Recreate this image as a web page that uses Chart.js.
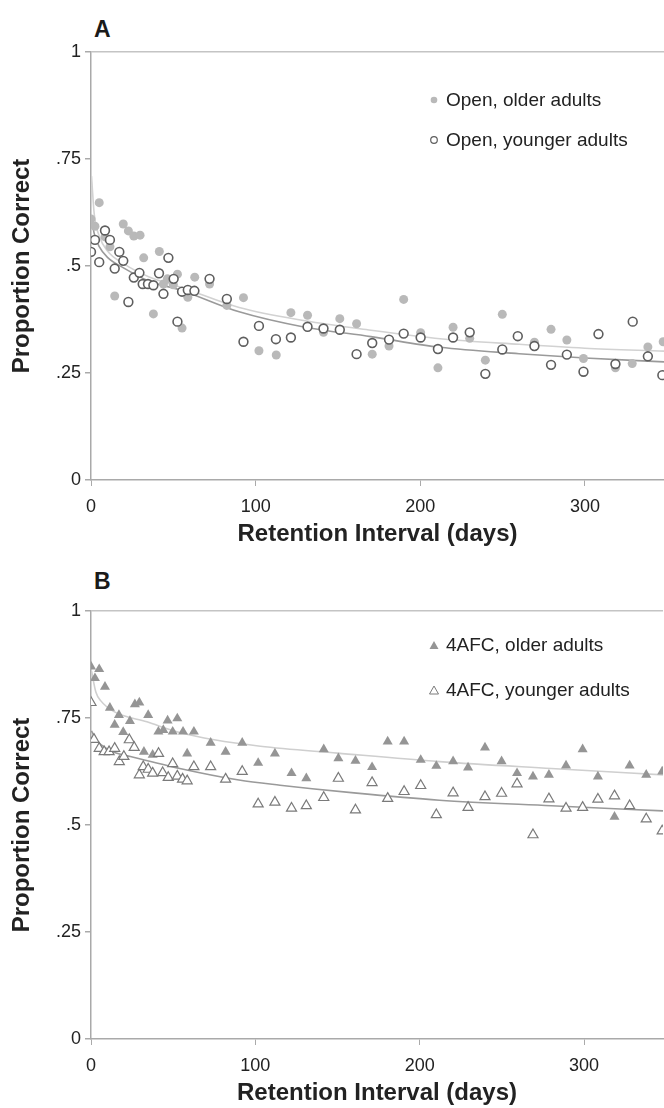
<!DOCTYPE html>
<html>
<head>
<meta charset="utf-8">
<script src="https://cdn.jsdelivr.net/npm/chart.js@4.4.0/dist/chart.umd.min.js"></script>
<style>
  body { margin: 0; width: 664px; height: 1108px; overflow: hidden; background: #fff; position: relative;
         font-family: "Liberation Sans", Arial, Helvetica, sans-serif; }
  .panel { position: absolute; left: 0; width: 670px; height: 554px; }
  .panel-label { position: absolute; left: 94px; font-weight: bold; font-size: 23px; line-height: 23px; color: #1a1a1a; }
  .legend { position: absolute; left: 428px; font-size: 19px; color: #222; }
  .legend .item { display: flex; align-items: center; white-space: nowrap; }
  .legend svg { margin-right: 6px; }
</style>
</head>
<body>
<div class="panel-label" style="top:18px">A</div>
<div class="panel" style="top:0"><canvas id="panel-a" width="670" height="554"></canvas></div>
<div class="legend" id="legend-a" style="top:80px"></div>

<div class="panel-label" style="top:570px">B</div>
<div class="panel" style="top:559px"><canvas id="panel-b" width="670" height="554"></canvas></div>
<div class="legend" id="legend-b" style="top:622px"></div>

<script>
// ticks
const xTicks = [0, 100, 200, 300];
const yTickLabels = ['0', '.25', '.5', '.75', '1'];

// panel A: open recall
const openOlderDays = [0, 2.4, 5, 8.5, 11.5, 14.4, 19.6, 22.7, 26, 29.8, 32, 37.9, 41.5, 44, 46.4, 50, 52.5, 55.3, 58.8, 63, 72, 82.5, 92.6, 102, 112.5, 121.4, 131.5, 141.2, 151.1, 161.3, 170.8, 181, 189.9, 200.2, 210.7, 219.9, 230, 239.5, 249.8, 259.2, 269.3, 279.4, 289, 299.1, 318.5, 328.7, 338.2, 347.5];
const openOlderProp = [0.61, 0.593, 0.648, 0.568, 0.545, 0.43, 0.598, 0.582, 0.57, 0.572, 0.519, 0.388, 0.534, 0.458, 0.47, 0.456, 0.481, 0.355, 0.427, 0.474, 0.458, 0.408, 0.426, 0.302, 0.292, 0.391, 0.385, 0.345, 0.377, 0.365, 0.294, 0.313, 0.422, 0.344, 0.262, 0.357, 0.331, 0.28, 0.387, 0.335, 0.322, 0.352, 0.327, 0.284, 0.262, 0.272, 0.311, 0.323];

const openYoungerDays = [0, 2.4, 5, 8.5, 11.5, 14.4, 17.2, 19.6, 22.7, 26, 29.4, 31.4, 34.6, 37.9, 41.3, 44, 47, 50.2, 52.5, 55.3, 58.8, 62.8, 72, 82.5, 92.6, 102, 112.3, 121.4, 131.5, 141.2, 151.1, 161.3, 170.8, 181, 189.9, 200.2, 210.7, 219.9, 230, 239.5, 249.8, 259.2, 269.3, 279.4, 289, 299.1, 308.2, 318.5, 329, 338.2, 347];
const openYoungerProp = [0.533, 0.561, 0.509, 0.583, 0.561, 0.494, 0.533, 0.512, 0.416, 0.473, 0.484, 0.458, 0.458, 0.455, 0.483, 0.435, 0.519, 0.47, 0.37, 0.44, 0.444, 0.442, 0.47, 0.423, 0.323, 0.36, 0.329, 0.333, 0.358, 0.354, 0.351, 0.294, 0.32, 0.328, 0.342, 0.333, 0.306, 0.333, 0.345, 0.248, 0.305, 0.336, 0.313, 0.269, 0.293, 0.253, 0.341, 0.271, 0.37, 0.289, 0.245];

const fitOpenOlderDays = [0.3, 2, 5, 10, 20, 35, 55, 90, 130, 170, 212, 260, 300, 348];
const fitOpenOlderProp = [0.71, 0.62, 0.57, 0.535, 0.505, 0.475, 0.45, 0.403, 0.372, 0.35, 0.33, 0.317, 0.308, 0.301];
const fitOpenYoungerDays = [0.3, 2, 5, 10, 20, 35, 55, 90, 130, 170, 212, 260, 300, 348];
const fitOpenYoungerProp = [0.61, 0.575, 0.545, 0.52, 0.495, 0.465, 0.443, 0.393, 0.357, 0.335, 0.31, 0.295, 0.285, 0.276];

// panel B: 4AFC recognition
const afcOlderDays = [0, 2.4, 5, 8.5, 11.5, 14.4, 17, 19.6, 23.7, 26.7, 29.4, 32.2, 34.8, 37.5, 41, 44, 46.6, 49.7, 52.5, 56, 58.5, 62.6, 72.8, 81.9, 92, 101.7, 111.9, 122, 131, 141.6, 150.5, 160.9, 171, 180.5, 190.5, 200.6, 210.1, 220.3, 229.4, 239.7, 249.8, 259.2, 268.9, 278.6, 289, 299.1, 308.4, 318.5, 327.7, 337.8, 347.5];
const afcOlderProp = [0.87, 0.843, 0.864, 0.823, 0.774, 0.734, 0.757, 0.717, 0.743, 0.782, 0.786, 0.671, 0.757, 0.664, 0.718, 0.722, 0.744, 0.718, 0.749, 0.718, 0.667, 0.718, 0.692, 0.671, 0.692, 0.645, 0.667, 0.621, 0.609, 0.677, 0.656, 0.65, 0.635, 0.695, 0.695, 0.652, 0.638, 0.649, 0.634, 0.681, 0.649, 0.621, 0.613, 0.617, 0.639, 0.677, 0.613, 0.519, 0.639, 0.617, 0.625];

const afcYoungerDays = [0, 1.8, 5, 8, 11, 14.4, 17.2, 20, 23.3, 26.3, 29.4, 31.8, 34.8, 37.5, 41.1, 43.6, 47, 49.7, 52.5, 55.7, 58.5, 62.6, 72.8, 81.9, 92, 101.7, 111.9, 122, 131, 141.6, 150.5, 160.9, 171, 180.5, 190.5, 200.6, 210.1, 220.3, 229.4, 239.7, 249.8, 259.2, 268.9, 278.6, 289, 299.1, 308.4, 318.5, 327.7, 337.8, 347.5];
const afcYoungerProp = [0.786, 0.70, 0.679, 0.671, 0.671, 0.679, 0.648, 0.66, 0.699, 0.681, 0.617, 0.636, 0.63, 0.621, 0.667, 0.622, 0.611, 0.643, 0.614, 0.607, 0.603, 0.636, 0.636, 0.607, 0.625, 0.549, 0.553, 0.539, 0.545, 0.564, 0.609, 0.535, 0.599, 0.562, 0.578, 0.592, 0.524, 0.575, 0.541, 0.566, 0.574, 0.596, 0.477, 0.561, 0.539, 0.541, 0.56, 0.568, 0.545, 0.514, 0.486];

const fitAfcOlderDays = [0.3, 3, 6, 14, 34, 54, 75, 103, 150, 212, 280, 348];
const fitAfcOlderProp = [0.86, 0.81, 0.79, 0.765, 0.741, 0.716, 0.699, 0.684, 0.668, 0.648, 0.632, 0.617];
const fitAfcYoungerDays = [0.3, 3, 6, 14, 24, 54, 90, 115, 160, 212, 280, 348];
const fitAfcYoungerProp = [0.72, 0.70, 0.688, 0.67, 0.66, 0.632, 0.605, 0.593, 0.575, 0.558, 0.545, 0.533];

const FONT = '"Liberation Sans", Arial, Helvetica, sans-serif';

function toPoints(days, prop){
    return days.map((d, i) => ({ x: d, y: prop[i] }));
}

function fitLine(days, prop, color, order){
    return {
        label: '', data: toPoints(days, prop), showLine: true, pointRadius: 0,
        borderColor: color, borderWidth: 1.6, cubicInterpolationMode: 'monotone', order: order
    };
}

function makePanel(canvasId, datasets){
    return new Chart(document.getElementById(canvasId), {
        type: 'scatter',
        data: { datasets: datasets },
        options: {
            responsive: false,
            animation: false,
            devicePixelRatio: 1,
            layout: { padding: { top: 52, right: 0, bottom: 0, left: 0 } },
            plugins: { legend: { display: false }, tooltip: { enabled: false } },
            scales: {
                x: {
                    min: 0, max: 348,
                    afterFit: scale => { scale.height = 74; },
                    afterBuildTicks: scale => { scale.ticks = xTicks.map(v => ({ value: v })); },
                    ticks: { color: '#222', font: { family: FONT, size: 18 }, padding: 10 },
                    grid: { drawOnChartArea: false, tickLength: 6, tickColor: '#aaa' },
                    border: { color: '#a9a9a9', width: 1.5 },
                    title: { display: true, text: 'Retention Interval (days)', color: '#222',
                             font: { family: FONT, size: 24, weight: 'bold' }, padding: { top: 0, bottom: 5 } }
                },
                y: {
                    min: 0, max: 1,
                    afterFit: scale => { scale.width = 91; },
                    ticks: { stepSize: 0.25, color: '#222', font: { family: FONT, size: 18 }, padding: 4,
                             callback: (v, i) => yTickLabels[i] },
                    grid: { color: ctx => ctx.tick && ctx.tick.value === 1 ? '#c4c4c4' : 'transparent',
                            lineWidth: 1.5, tickLength: 6, tickColor: '#aaa' },
                    border: { color: '#a9a9a9', width: 1.5 },
                    title: { display: true, text: 'Proportion Correct', color: '#222',
                             font: { family: FONT, size: 24, weight: 'bold' }, padding: { top: 8, bottom: 0 } }
                }
            }
        }
    });
}

const panelA = [
    { label: 'Open, older adults', data: toPoints(openOlderDays, openOlderProp), pointStyle: 'circle',
      pointRadius: 4.5, backgroundColor: '#b9b9b9', borderWidth: 0, order: 1 },
    { label: 'Open, younger adults', data: toPoints(openYoungerDays, openYoungerProp), pointStyle: 'circle',
      pointRadius: 4.4, backgroundColor: '#fff', borderColor: '#5e5e5e', borderWidth: 1.6, order: 0 },
    fitLine(fitOpenOlderDays, fitOpenOlderProp, '#d2d2d2', 3),
    fitLine(fitOpenYoungerDays, fitOpenYoungerProp, '#9a9a9a', 2)
];

const panelB = [
    { label: '4AFC, older adults', data: toPoints(afcOlderDays, afcOlderProp), pointStyle: 'triangle',
      pointRadius: 5.8, backgroundColor: '#959595', borderWidth: 0, order: 1 },
    { label: '4AFC, younger adults', data: toPoints(afcYoungerDays, afcYoungerProp), pointStyle: 'triangle',
      pointRadius: 5.8, backgroundColor: '#fff', borderColor: '#7a7a7a', borderWidth: 1.2, order: 0 },
    fitLine(fitAfcOlderDays, fitAfcOlderProp, '#cfcfcf', 3),
    fitLine(fitAfcYoungerDays, fitAfcYoungerProp, '#9a9a9a', 2)
];

makePanel('panel-a', panelA);
makePanel('panel-b', panelB);

// html legends built from the dataset labels
function markerSvg(ds){
    const fill = ds.backgroundColor;
    const stroke = ds.borderWidth ? ds.borderColor : 'none';
    const shape = ds.pointStyle === 'triangle'
        ? '<polygon points="6,2 10.5,10 1.5,10" fill="' + fill + '" stroke="' + stroke + '" stroke-width="1"/>'
        : '<circle cx="6" cy="6" r="3.3" fill="' + fill + '" stroke="' + stroke + '" stroke-width="1.2"/>';
    return '<svg width="12" height="12" viewBox="0 0 12 12">' + shape + '</svg>';
}

function buildLegend(id, datasets, rowHeight){
    const el = document.getElementById(id);
    datasets.filter(ds => ds.label).forEach(ds => {
        const row = document.createElement('div');
        row.className = 'item';
        row.style.height = rowHeight + 'px';
        row.innerHTML = markerSvg(ds) + '<span>' + ds.label + '</span>';
        el.appendChild(row);
    });
}

buildLegend('legend-a', panelA, 40);
buildLegend('legend-b', panelB, 45);
</script>
</body>
</html>
